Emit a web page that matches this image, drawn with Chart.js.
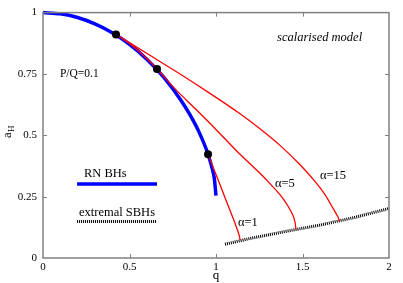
<!DOCTYPE html>
<html>
<head>
<meta charset="utf-8">
<script src="https://cdn.jsdelivr.net/npm/chart.js@4/dist/chart.umd.min.js"></script>
<style>
  html, body { margin: 0; padding: 0; background: #fff; }
  #wrap { width: 403px; height: 283px; }
  .pre { position: absolute; left: -999px; font-family: 'Liberation Serif'; }
</style>
</head>
<body>
<span class="pre">a0.5</span><span class="pre" style="font-style:italic">model</span>
<div id="wrap"><canvas id="chart" width="403" height="283"></canvas></div>
<script>
/* ===== DATA ===== */
const rnQ = [0, 0.1, 0.2, 0.3, 0.4, 0.5, 0.6, 0.7, 0.8, 0.85, 0.9, 0.95, 0.98, 0.99, 1.0];
const rnA = [1, 0.995, 0.980, 0.954, 0.918, 0.871, 0.810, 0.735, 0.640, 0.583, 0.516, 0.431, 0.359, 0.326, 0.254];

const alpha15Q = [0.422, 0.618, 0.792, 0.965, 1.139, 1.254, 1.370, 1.486, 1.572, 1.630, 1.676, 1.703, 1.714];
const alpha15A = [0.911, 0.826, 0.750, 0.671, 0.588, 0.527, 0.459, 0.380, 0.312, 0.258, 0.203, 0.170, 0.150];

const alpha5Q = [0.422, 0.5, 0.58, 0.659, 0.769, 0.879, 0.994, 1.121, 1.254, 1.312, 1.370, 1.416, 1.445, 1.457, 1.462];
const alpha5A = [0.911, 0.874, 0.826, 0.770, 0.685, 0.609, 0.528, 0.435, 0.345, 0.303, 0.258, 0.212, 0.173, 0.145, 0.117];

const alpha1Q = [0.954, 1.0, 1.05, 1.10, 1.125, 1.135, 1.139];
const alpha1A = [0.423, 0.340, 0.250, 0.160, 0.112, 0.090, 0.073];

const extremalQ = [1.052, 1.2, 1.4, 1.6, 1.8, 2.0];
const extremalA = [0.056, 0.080, 0.108, 0.134, 0.165, 0.202];

const bifQ = [0.422, 0.659, 0.954];
const bifA = [0.911, 0.770, 0.423];

const xTicks = [0, 0.5, 1, 1.5, 2];
const yTicks = [0, 0.25, 0.5, 0.75, 1];

const pts = (q, a) => q.map((v, i) => ({x: v, y: a[i]}));

/* ===== TEXT + LEGEND (data units) ===== */
const notes = [
    {text: "P/Q=0.1", q: 0.098, a: 0.75, size: 11.5},
    {text: "scalarised model", q: 1.353, a: 0.899, italic: true},
    {text: "\u03b1=1", q: 1.127, a: 0.145},
    {text: "\u03b1=5", q: 1.341, a: 0.302},
    {text: "\u03b1=15", q: 1.601, a: 0.335},
    {text: "RN BHs", q: 0.237, a: 0.343},
    {text: "extremal SBHs", q: 0.208, a: 0.185}
];
const legendLines = [
    {q0: 0.197, q1: 0.659, a: 0.302, color: "#0000ff", width: 3.5, dash: []},
    {q0: 0.197, q1: 0.659, a: 0.149, color: "#000", width: 3, dash: [1, 1]}
];

const serif = "'Liberation Serif', 'Times New Roman', serif";

const framePlugin = {
    id: "frame",
    afterDraw(chart) {
        const {ctx, chartArea: ca, scales} = chart;
        const xs = scales.x, ys = scales.y;
        ctx.save();

        // legend samples
        legendLines.forEach(l => {
            ctx.beginPath();
            ctx.strokeStyle = l.color;
            ctx.lineWidth = l.width;
            ctx.setLineDash(l.dash);
            const y = ys.getPixelForValue(l.a);
            ctx.moveTo(xs.getPixelForValue(l.q0), y);
            ctx.lineTo(xs.getPixelForValue(l.q1), y);
            ctx.stroke();
        });
        ctx.setLineDash([]);

        // box + inward ticks
        ctx.strokeStyle = "#808080";
        ctx.lineWidth = 1.5;
        ctx.strokeRect(ca.left, ca.top, ca.right - ca.left, ca.bottom - ca.top);
        ctx.lineWidth = 1;
        ctx.beginPath();
        xTicks.slice(1, -1).forEach(v => {
            const x = Math.round(xs.getPixelForValue(v)) + 0.5;
            ctx.moveTo(x, ca.bottom); ctx.lineTo(x, ca.bottom - 4);
            ctx.moveTo(x, ca.top); ctx.lineTo(x, ca.top + 4);
        });
        yTicks.slice(1, -1).forEach(v => {
            const y = Math.round(ys.getPixelForValue(v)) + 0.5;
            ctx.moveTo(ca.left, y); ctx.lineTo(ca.left + 4, y);
            ctx.moveTo(ca.right, y); ctx.lineTo(ca.right - 4, y);
        });
        ctx.stroke();

        // annotations
        ctx.fillStyle = "#000";
        ctx.textBaseline = "middle";
        ctx.textAlign = "left";
        notes.forEach(n => {
            ctx.font = (n.italic ? "italic " : "") + (n.size || 12.5) + "px " + serif;
            ctx.fillText(n.text, xs.getPixelForValue(n.q), ys.getPixelForValue(n.a));
        });

        // axis titles
        ctx.font = "13px " + serif;
        ctx.textAlign = "center";
        ctx.fillText("q", (ca.left + ca.right) / 2, 276);

        ctx.translate(8, 133);
        ctx.rotate(-Math.PI / 2);
        ctx.textAlign = "left";
        ctx.font = "13px " + serif;
        ctx.fillText("a", -5, 0);
        ctx.font = "9px " + serif;
        ctx.fillText("H", 1, 4);
        ctx.restore();
    }
};

const red = {borderColor: "#ff0000", borderWidth: 1.3, pointRadius: 0, showLine: true,
             tension: 0.3, clip: false};

function draw() {
    // first dataset is painted last (on top)
    new Chart(document.getElementById("chart"), {
        type: "scatter",
        data: {
            datasets: [
                {data: pts(bifQ, bifA), pointRadius: 4, pointBackgroundColor: "#000",
                 pointBorderColor: "#000", pointBorderWidth: 0, showLine: false, clip: false},
                {data: pts(alpha15Q, alpha15A), ...red},
                {data: pts(alpha5Q, alpha5A), ...red},
                {data: pts(alpha1Q, alpha1A), ...red},
                {data: pts(rnQ, rnA), borderColor: "#0000ff", borderWidth: 3.5, pointRadius: 0,
                 showLine: true, cubicInterpolationMode: "monotone", clip: false},
                {data: pts(extremalQ, extremalA), borderColor: "#000", borderWidth: 3, borderDash: [1, 1],
                 pointRadius: 0, showLine: true, clip: false}
            ]
        },
        options: {
            responsive: false,
            animation: false,
            devicePixelRatio: 1,
            layout: {padding: {top: 10, right: 14, left: 0, bottom: 0}},
            plugins: {legend: {display: false}, tooltip: {enabled: false}},
            scales: {
                x: {
                    type: "linear", min: 0, max: 2,
                    grid: {display: false, drawTicks: false},
                    border: {display: false},
                    afterBuildTicks: s => { s.ticks = xTicks.map(v => ({value: v})); },
                    afterFit: s => { s.height = 25; },
                    ticks: {padding: 3, color: "#000", font: {family: serif, size: 11},
                            autoSkip: false, maxRotation: 0, callback: v => String(v)}
                },
                y: {
                    type: "linear", min: 0, max: 1,
                    grid: {display: false, drawTicks: false},
                    border: {display: false},
                    afterBuildTicks: s => { s.ticks = yTicks.map(v => ({value: v})); },
                    afterFit: s => { s.width = 43; },
                    ticks: {padding: 6, color: "#000", font: {family: serif, size: 11},
                            autoSkip: false, callback: v => String(v)}
                }
            }
        },
        plugins: [framePlugin]
    });
}

Promise.all([
    document.fonts.load("11px 'Liberation Serif'"),
    document.fonts.load("italic 11px 'Liberation Serif'")
]).then(draw, draw);
</script>
</body>
</html>
